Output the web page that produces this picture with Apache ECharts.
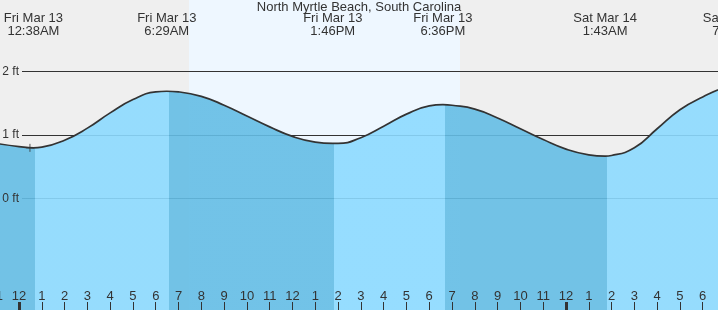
<!DOCTYPE html>
<html><head><meta charset="utf-8">
<script src="https://cdn.jsdelivr.net/npm/echarts@6/dist/echarts.min.js"></script>
<style>html,body{margin:0;padding:0;background:#efefef}#c{width:718px;height:310px}</style>
</head><body><div id="c"></div>
<script>
const chartTitle = 'North Myrtle Beach, South Carolina';
// hours since Fri Mar 13 00:00
const tideHours = [-1, 0, 0.633, 1, 2, 3, 4, 5, 6, 6.483, 7, 8, 9, 10, 11, 12, 13, 13.767, 14, 15, 16, 17, 18, 18.6, 19, 20, 21, 22, 23, 24, 25, 25.717, 26, 27, 28, 29, 30, 31, 31.4, 32];
const tideFeet  = [0.87, 0.82, 0.80, 0.81, 0.92, 1.11, 1.35, 1.56, 1.68, 1.69, 1.68, 1.61, 1.47, 1.30, 1.13, 0.98, 0.89, 0.87, 0.87, 0.96, 1.14, 1.33, 1.46, 1.48, 1.47, 1.41, 1.27, 1.10, 0.93, 0.78, 0.69, 0.67, 0.68, 0.80, 1.10, 1.40, 1.60, 1.75, 1.77, 1.76];
const extremeHours = [0.633, 6.483, 13.767, 18.6, 25.717, 31.4];
const extremeLabels = ['Fri Mar 13\n12:38AM', 'Fri Mar 13\n6:29AM', 'Fri Mar 13\n1:46PM', 'Fri Mar 13\n6:36PM', 'Sat Mar 14\n1:43AM', 'Sat Mar 14\n7:25AM'];
// falling-tide shading: [start, end] in hours
const fallingBands = [[null, 0.70], [6.58, 13.82], [18.68, 25.79], [31.45, null]];
const daylight = [7.46, 19.35];
const midnightHours = [0, 24];
const nowPoint = [0.48, 0.80];

const FONT = '"Liberation Sans", Arial, sans-serif';
const TXT = '#333';
const LIGHT = 'rgb(140,218,255)';
const DARK = 'rgb(100,189,229)';

const pieces = [];
let cursor = null;
fallingBands.forEach(([s, e]) => {
  if (s !== null) {
    const lp = { lt: s, color: LIGHT };
    if (cursor !== null) lp.gte = cursor;
    pieces.push(lp);
  }
  const dp = { color: DARK };
  if (s !== null) dp.gte = s;
  if (e !== null) dp.lt = e;
  pieces.push(dp);
  cursor = e;
});

const hourFmt = v => { const h = ((Math.round(v) % 12) + 12) % 12; return String(h === 0 ? 12 : h); };
const extremeFmt = v => {
  let best = 0;
  extremeHours.forEach((h, i) => { if (Math.abs(h - v) < Math.abs(extremeHours[best] - v)) best = i; });
  return extremeLabels[best];
};

const chart = echarts.init(document.getElementById('c'), null, { renderer: 'canvas' });
chart.setOption({
  backgroundColor: '#efefef',
  animation: false,
  textStyle: { fontFamily: FONT },
  title: { text: chartTitle, left: 'center', top: 0, padding: 0, z: 20,
    textStyle: { fontSize: 13, fontWeight: 'normal', color: TXT, fontFamily: FONT, lineHeight: 14 } },
  grid: [
    { left: -3.79, right: -30.3, top: 0, bottom: 0, outerBoundsMode: 'none', containLabel: false },
    { left: 22, right: 0, top: 71.5, bottom: 111.3, outerBoundsMode: 'none', containLabel: false }
  ],
  xAxis: [
    { gridIndex: 0, type: 'value', min: -1, max: 32, interval: 1, position: 'bottom', z: 10,
      axisLine: { show: false, onZero: false }, splitLine: { show: false },
      axisTick: { show: true, inside: true, length: 8, lineStyle: { color: TXT, width: 1 } },
      axisLabel: { inside: true, margin: 7, fontSize: 13, color: TXT, fontFamily: FONT, formatter: hourFmt, showMinLabel: true, showMaxLabel: true } },
    { gridIndex: 0, type: 'value', min: -1, max: 32, position: 'top', z: 10,
      axisLine: { show: false, onZero: false }, splitLine: { show: false }, axisTick: { show: false },
      axisLabel: { inside: true, customValues: extremeHours, margin: 12, fontSize: 13, lineHeight: 13, color: TXT, fontFamily: FONT, formatter: extremeFmt } },
    { gridIndex: 0, type: 'value', min: -1, max: 32, position: 'bottom', z: 11,
      axisLine: { show: false, onZero: false }, splitLine: { show: false }, axisLabel: { show: false },
      axisTick: { show: true, inside: true, length: 8, customValues: midnightHours, lineStyle: { color: TXT, width: 3 } } },
    { gridIndex: 1, type: 'value', min: 0, max: 1, show: false, axisLine: { onZero: false } }
  ],
  yAxis: [
    { gridIndex: 0, type: 'value', min: -1.75, max: 3.125, show: false, position: 'left', axisLine: { onZero: false } },
    { gridIndex: 1, type: 'value', min: 0, max: 2, interval: 1, z: 1.5, position: 'left',
      axisLine: { show: false, onZero: false }, axisTick: { show: false }, axisLabel: { show: false },
      splitLine: { show: true, lineStyle: { color: TXT, width: 1 } } },
    { gridIndex: 1, type: 'value', min: 0, max: 2, interval: 1, z: 10, position: 'left',
      axisLine: { show: false, onZero: false }, axisTick: { show: false }, splitLine: { show: false },
      axisLabel: { show: true, margin: 3, fontSize: 12, color: TXT, fontFamily: FONT, formatter: '{value} ft' } }
  ],
  visualMap: [{ type: 'piecewise', show: false, dimension: 0, seriesIndex: 0, pieces: pieces }],
  series: [
    { type: 'line', xAxisIndex: 0, yAxisIndex: 0, z: 2,
      data: tideHours.map((h, i) => [h, tideFeet[i]]),
      smooth: 0.5, showSymbol: false, silent: true,
      lineStyle: { color: '#333', width: 1.7 },
      areaStyle: { opacity: 0.9, origin: 'start' },
      markArea: { silent: true, itemStyle: { color: '#eef7ff' },
        data: [[{ xAxis: daylight[0] }, { xAxis: daylight[1] }]] } },
    { type: 'scatter', xAxisIndex: 0, yAxisIndex: 0, z: 5, silent: true,
      data: [nowPoint], symbol: 'path://M0,4L8,4M4,0L4,8', symbolSize: 8,
      itemStyle: { color: 'none', borderColor: '#333', borderWidth: 1 } }
  ]
});
</script></body></html>
